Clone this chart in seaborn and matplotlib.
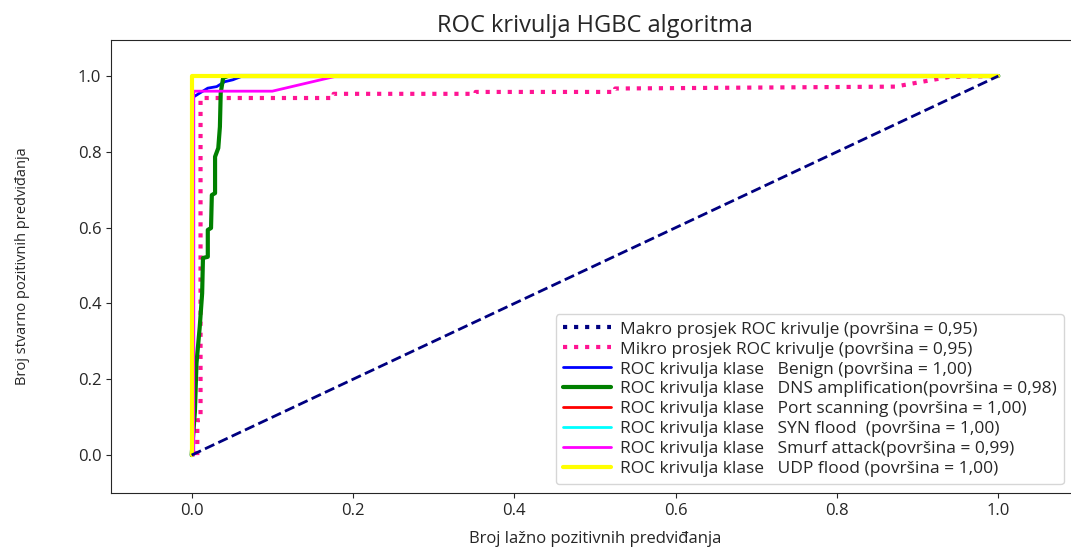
import numpy as np
import pandas as pd
import matplotlib
matplotlib.use("Agg")
import matplotlib.pyplot as plt
import seaborn as sns

# ROC tocke ocitane sa slike
macro_fpr = [0.0, 0.0, 1.0]
macro_tpr = [0.0, 1.0, 1.0]

micro_fpr = [0.007, 0.007, 0.011, 0.011, 0.176, 0.176, 0.352, 0.352, 0.525, 0.525, 0.872, 0.94, 1.0]
micro_tpr = [0.0, 0.092, 0.092, 0.942, 0.942, 0.953, 0.953, 0.958, 0.958, 0.967, 0.972, 0.998, 1.0]

benign_fpr = [0.0, 0.0025, 0.0025, 0.01, 0.02, 0.031, 0.041, 0.051, 0.063, 1.0]
benign_tpr = [0.0, 0.0, 0.945, 0.955, 0.968, 0.972, 0.985, 0.99, 1.0, 1.0]

dns_fpr = [0.0, 0.004, 0.006, 0.010, 0.013, 0.014, 0.020, 0.020, 0.024, 0.025, 0.029, 0.029, 0.033, 0.035, 0.036, 0.039, 0.045, 1.0]
dns_tpr = [0.0, 0.114, 0.243, 0.338, 0.427, 0.52, 0.523, 0.594, 0.599, 0.686, 0.691, 0.787, 0.81, 0.866, 0.955, 0.995, 1.0, 1.0]

port_fpr = [0.0, 0.0, 1.0]
port_tpr = [0.0, 1.0, 1.0]

syn_fpr = [0.0, 0.0, 1.0]
syn_tpr = [0.0, 1.0, 1.0]

smurf_fpr = [0.0, 0.0025, 0.0025, 0.1, 0.18, 1.0]
smurf_tpr = [0.0, 0.0, 0.96, 0.96, 1.0, 1.0]

udp_fpr = [0.0, 0.0, 1.0]
udp_tpr = [0.0, 1.0, 1.0]

class_names = ["Benign", "DNS amplification", "Port scanning", "SYN flood", "Smurf attack", "UDP flood"]
class_auc = ["1,00", "0,98", "1,00", "1,00", "0,99", "1,00"]
class_colors = ["blue", "green", "red", "cyan", "magenta", "yellow"]
class_fpr = [benign_fpr, dns_fpr, port_fpr, syn_fpr, smurf_fpr, udp_fpr]
class_tpr = [benign_tpr, dns_tpr, port_tpr, syn_tpr, smurf_tpr, udp_tpr]
class_lw = [2, 3, 2, 2, 2, 3]
class_sep = [" ", "", " ", "  ", "", " "]

sns.set_style("ticks")
plt.rcParams["font.family"] = ["Open Sans", "DejaVu Sans"]

fig = plt.figure(figsize=(10.71, 5.47), dpi=100)
ax = fig.add_axes([111 / 1071, 54 / 547, 968 / 1071, 453 / 547])

# makro krivulja je skrivena ispod zute
sns.lineplot(x=macro_fpr, y=macro_tpr, color="navy", linestyle=":", linewidth=2,
             sort=False, estimator=None, ax=ax, zorder=1,
             label="Makro prosjek ROC krivulje (površina = 0,95)")
sns.lineplot(x=micro_fpr, y=micro_tpr, color="deeppink", linestyle=":", linewidth=3,
             sort=False, estimator=None, ax=ax, zorder=2,
             label="Mikro prosjek ROC krivulje (površina = 0,95)")

for i in range(len(class_names)):
    lbl = "ROC krivulja klase   " + class_names[i] + class_sep[i] + "(površina = " + class_auc[i] + ")"
    sns.lineplot(x=class_fpr[i], y=class_tpr[i], color=class_colors[i], linewidth=class_lw[i],
                 sort=False, estimator=None, ax=ax, zorder=3 + i, label=lbl)

sns.lineplot(x=[0, 1], y=[0, 1], color="navy", linestyle="--", linewidth=2,
             sort=False, estimator=None, ax=ax, zorder=10, legend=False)

ax.set_xlim(-0.1, 1.1)
ax.set_ylim(-0.1, 1.095)
ax.set_xticks([0.0, 0.2, 0.4, 0.6, 0.8, 1.0])
ax.set_yticks([0.0, 0.2, 0.4, 0.6, 0.8, 1.0])
ax.tick_params(labelsize=12)
ax.set_xlabel("Broj lažno pozitivnih predviđanja", fontsize=12, labelpad=9)
ax.set_ylabel("Broj stvarno pozitivnih predviđanja", fontsize=10.5, labelpad=34)
ax.set_title("ROC krivulja HGBC algoritma", fontsize=17, pad=6)

leg = ax.legend(loc="lower right", bbox_to_anchor=(0.993, 0.0), fontsize=12.5,
                handlelength=2.8, handletextpad=0.5, labelspacing=0.22,
                frameon=True, borderpad=0.4)
leg.get_frame().set_edgecolor("#cccccc")
for h in leg.legend_handles[:2]:
    h.set_linewidth(3)

fig.savefig("out.png", dpi=100)
